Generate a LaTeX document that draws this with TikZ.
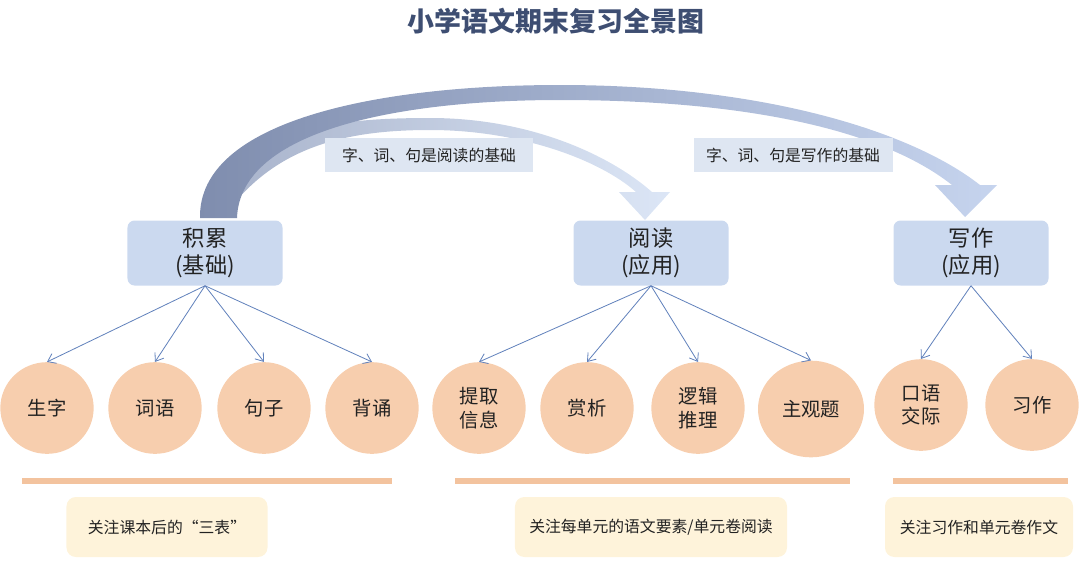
\documentclass[tikz,border=0pt]{standalone}
\usepackage{fontspec}
\setmainfont{Noto Sans CJK SC}
\usepackage{xcolor}
\usepackage{tikz}
\usetikzlibrary{arrows.meta,shapes.geometric}
\definecolor{titleblue}{HTML}{3E4E72}
\definecolor{boxblue}{HTML}{CBD9EF}
\definecolor{tagblue}{HTML}{DEE6F2}
\definecolor{peach}{HTML}{F7CEAE}
\definecolor{barorange}{HTML}{F3C39E}
\definecolor{cream}{HTML}{FEF3DA}
\definecolor{inkdark}{HTML}{222222}
\definecolor{fanblue}{HTML}{6282BC}
\definecolor{arcdark}{HTML}{7F8DAE}
\definecolor{arclight}{HTML}{C6D4EE}
\definecolor{arcpale}{HTML}{A9B4CC}
\definecolor{arcfaint}{HTML}{DCE6F6}
\tikzset{
  titlenode/.style={font=\fontsize{23}{28}\selectfont\bfseries,text=titleblue},
  topbox/.style={rounded corners=6pt,fill=boxblue,minimum width=4.65cm,minimum height=1.95cm,align=center,font=\fontsize{19}{23}\selectfont,text=inkdark},
  topicnode/.style={ellipse,fill=peach,minimum width=2.8cm,minimum height=2.75cm,inner sep=0pt,align=center,font=\fontsize{16.5}{20}\selectfont,text=inkdark},
  tagnode/.style={fill=tagblue,minimum height=1.02cm,inner sep=4pt,font=\fontsize{13.5}{16}\selectfont,text=inkdark},
  notenode/.style={rounded corners=8pt,fill=cream,minimum height=1.8cm,font=\fontsize{13.5}{16}\selectfont,text=inkdark},
  fanarrow/.style={-{Straight Barb[length=2.2mm,width=3.2mm]},draw=fanblue,line width=0.7pt},
  notebar/.style={draw=barorange,line width=0.18cm},
}

\begin{document}
\begin{tikzpicture}[x=0.03cm,y=-0.03cm]
  \useasboundingbox (0,0) rectangle (1080,581);
  \node[titlenode] (title) at (556,21) {小学语文期末复习全景图};

  % big arcs (inner one first, the outer covers its start)
  \shade[left color=arcpale,right color=arcfaint]
    (232,170) .. controls (280,125) and (350,118) .. (430,118)
    .. controls (530,118) and (610,155) .. (652,192) -- (670,192) -- (645,220) -- (619,192) -- (636,192)
    .. controls (600,160) and (520,130) .. (430,130)
    .. controls (350,130) and (285,145) .. (237,200) -- cycle;
  \shade[left color=arcdark,right color=arclight]
    (200,218) .. controls (198,120) and (380,85) .. (560,85)
    .. controls (760,85) and (910,130) .. (980,185) -- (997,185) -- (965,217) -- (935,185) -- (952,185)
    .. controls (880,128) and (740,100) .. (560,100)
    .. controls (400,100) and (240,130) .. (237,218) -- cycle;
  \node[tagnode,minimum width=6.24cm] (tagread) at (429,155) {字、词、句是阅读的基础};
  \node[tagnode,minimum width=5.97cm] (tagwrite) at (793,155) {字、词、句是写作的基础};

  % three parts
  \node[topbox] (jilei) at (205,253) {积累\\(基础)};
  \node[topbox] (yuedu) at (651,253) {阅读\\(应用)};
  \node[topbox] (xiezuo) at (971,253) {写作\\(应用)};

  \node[topicnode] (shengzi) at (47,408) {生字};
  \node[topicnode] (ciyu) at (155,408) {词语};
  \node[topicnode] (juzi) at (264,408) {句子};
  \node[topicnode] (beisong) at (372,408) {背诵};
  \node[topicnode] (tiqu) at (479,408) {提取\\信息};
  \node[topicnode] (shangxi) at (587,408) {赏析};
  \node[topicnode] (luoji) at (698,408) {逻辑\\推理};
  \node[topicnode,minimum width=3.18cm,minimum height=2.9cm] (zhuguan) at (811,409) {主观题};
  \node[topicnode] (kouyu) at (921,405) {口语\\交际};
  \node[topicnode] (xizuo) at (1032,405) {习作};

  \foreach \t in {shengzi,ciyu,juzi,beisong} \draw[fanarrow] (jilei.south) -- (\t.north);
  \foreach \t in {tiqu,shangxi,luoji,zhuguan} \draw[fanarrow] (yuedu.south) -- (\t.north);
  \foreach \t in {kouyu,xizuo} \draw[fanarrow] (xiezuo.south) -- (\t.north);

  % bars and notes
  \draw[notebar] (22,481) -- (392,481);
  \draw[notebar] (455,481) -- (850,481);
  \draw[notebar] (893,481) -- (1068,481);
  \node[notenode,minimum width=6.03cm] (notejilei) at (167,527) {关注课本后的“三表”};
  \node[notenode,minimum width=8.16cm] (noteyuedu) at (651,527) {关注每单元的语文要素/单元卷阅读};
  \node[notenode,minimum width=5.64cm] (notexiezuo) at (979,527) {关注习作和单元卷作文};
\end{tikzpicture}
\end{document}
